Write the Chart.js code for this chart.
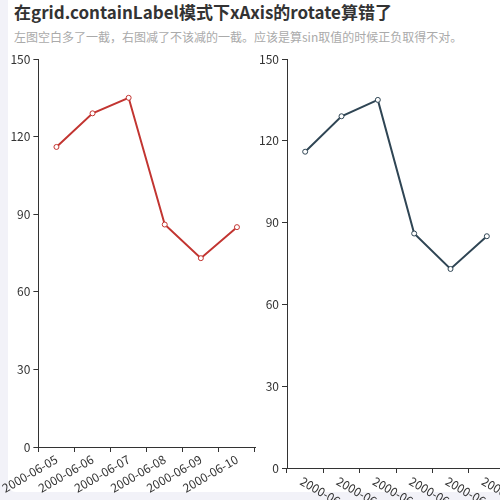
<!DOCTYPE html>
<html><head><meta charset="utf-8">
<script src="https://cdn.jsdelivr.net/npm/chart.js@4"></script>
<style>
html,body{margin:0;padding:0;width:500px;height:500px;overflow:hidden;background:#f2f2f8;font-family:"Noto Sans CJK SC",sans-serif}
#card{position:absolute;left:8px;top:0;width:500px;height:492px;background:#fff;border-radius:0 0 0 8px}
#t{position:absolute;left:14px;top:-1px;font-size:17px;font-weight:bold;color:#333;white-space:nowrap}
#s{position:absolute;left:14px;top:28px;font-size:12px;color:#aaa;white-space:nowrap}
</style></head><body>
<div id="card"></div>
<div id="t">在grid.containLabel模式下xAxis的rotate算错了</div>
<div id="s">左图空白多了一截，右图减了不该减的一截。应该是算sin取值的时候正负取得不对。</div>
<div style="position:absolute;left:0;top:0;width:260px;height:500px"><canvas id="c1"></canvas></div>
<div style="position:absolute;left:260px;top:0;width:250px;height:500px"><canvas id="c2"></canvas></div>
<script>
const categories=['2000-06-05','2000-06-06','2000-06-07','2000-06-08','2000-06-09','2000-06-10'];
const values=[116,129,135,86,73,85];
const yTicks=[0,30,60,90,120,150];
Chart.defaults.font.family='"Noto Sans CJK SC", sans-serif';
Chart.defaults.font.size=12;
Chart.defaults.color='#333';
function make(id,color,yW,xH,rightPad,customLabels){
  const plugin={id:'lbl',afterDraw(ch){
    if(!customLabels)return;
    const s=ch.scales.x,c=ch.ctx;c.save();c.font='12px "Noto Sans CJK SC", sans-serif';c.fillStyle='#333';c.textAlign='left';c.textBaseline='middle';
    categories.forEach((t,i)=>{const x=s.getPixelForValue(i);c.save();c.translate(x-4,ch.chartArea.bottom+12);c.rotate(Math.PI/6);c.fillText(t,0,0);c.restore();});
    c.restore();}};
  new Chart(document.getElementById(id),{type:'line',
    data:{labels:categories,datasets:[{data:values,borderColor:color,borderWidth:2,pointRadius:2.5,pointBorderWidth:1,pointBackgroundColor:'#fff',pointBorderColor:color,tension:0}]},
    options:{responsive:true,maintainAspectRatio:false,animation:false,
      layout:{padding:{top:59,right:rightPad,left:0,bottom:0}},
      plugins:{legend:{display:false},tooltip:{enabled:false}},
      scales:{
        x:{offset:true,grid:{offset:true,drawOnChartArea:false,tickLength:5,color:'#333'},border:{color:'#333'},
          ticks:{display:!customLabels,minRotation:30,maxRotation:30,padding:0,color:'#333'},afterFit:s=>{s.height=xH}},
        y:{min:0,max:150,afterBuildTicks:s=>{s.ticks=yTicks.map(v=>({value:v}))},grid:{drawOnChartArea:false,tickLength:5,color:'#333'},border:{color:'#333'},ticks:{padding:3,color:'#333'},afterFit:s=>{s.width=yW}}
      }},plugins:[plugin]});
}
make('c1','#c23531',37,53,2,false);
make('c2','#2f4554',27,32,0,true);
</script></body></html>
